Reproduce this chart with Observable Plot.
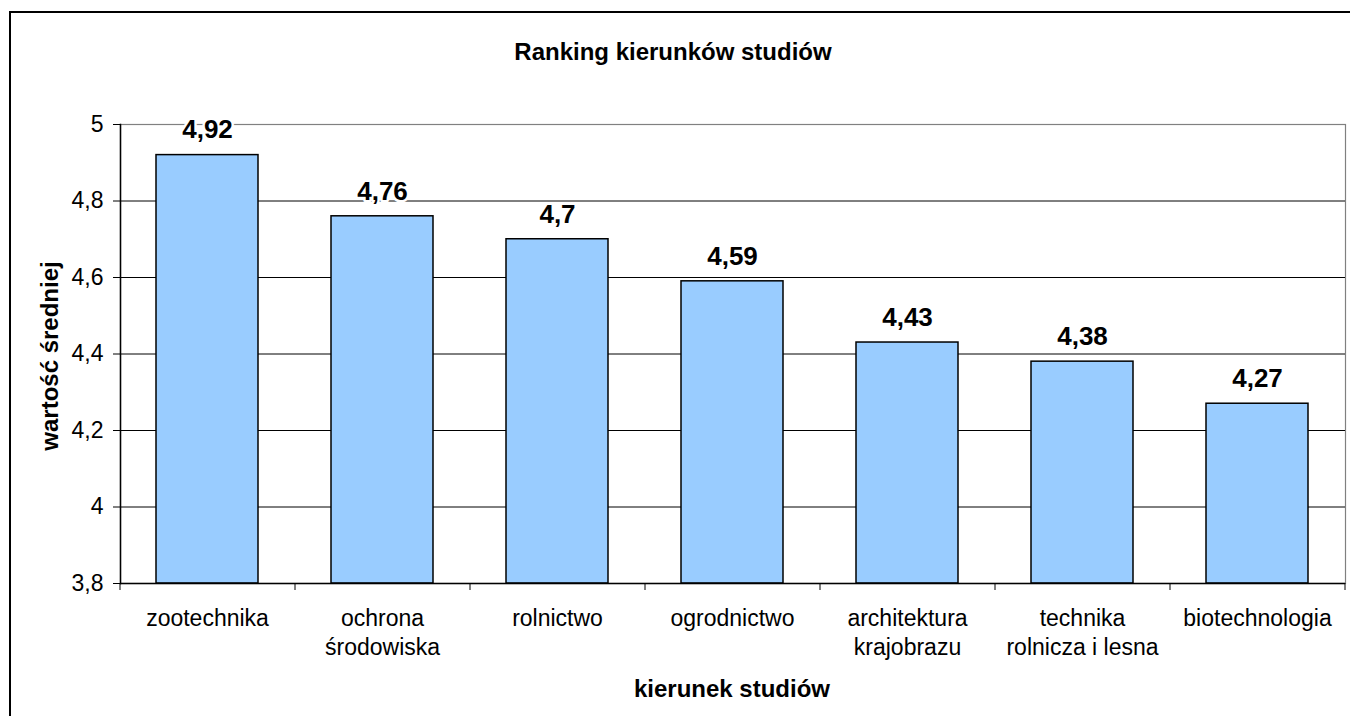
<!DOCTYPE html>
<html>
<head>
<meta charset="utf-8">
<script src="https://cdn.jsdelivr.net/npm/d3@7"></script>
<script src="https://cdn.jsdelivr.net/npm/@observablehq/plot@0.6"></script>
<style>
  html, body { margin: 0; padding: 0; background: #fff; }
  #wrap { position: relative; width: 1350px; height: 716px; overflow: hidden;
          font-family: "Liberation Sans", Arial, sans-serif; color: #000; }
  #border { position: absolute; left: 9px; top: 11px; width: 1400px; height: 800px;
            border-left: 2px solid #000; border-top: 2px solid #000; pointer-events: none; }
  .lbl { position: absolute; font-weight: bold; white-space: nowrap; line-height: 1;
         transform: translate(-50%, -50%); }
  #ytitle { transform: translate(-50%, -50%) rotate(-90deg); }
  svg { font-family: "Liberation Sans", Arial, sans-serif; }
</style>
</head>
<body>
<div id="wrap">
  <div id="chart"></div>
  <div id="title" class="lbl" style="left:673px; top:52px; font-size:24px;"></div>
  <div id="xtitle" class="lbl" style="left:732px; top:689px; font-size:24px;"></div>
  <div id="ytitle" class="lbl" style="left:50px; top:356px; font-size:24px;"></div>
  <div id="border"></div>
</div>
<script>
const title = "Ranking kierunków studiów";
const xTitle = "kierunek studiów";
const yTitle = "wartość średniej";
const categories = ["zootechnika", "ochrona środowiska", "rolnictwo", "ogrodnictwo",
  "architektura krajobrazu", "technika rolnicza i lesna", "biotechnologia"];
const tickLabels = ["zootechnika", "ochrona\nśrodowiska", "rolnictwo", "ogrodnictwo",
  "architektura\nkrajobrazu", "technika\nrolnicza i lesna", "biotechnologia"];
const values = [4.92, 4.76, 4.7, 4.59, 4.43, 4.38, 4.27];
const yTicks = [3.8, 4, 4.2, 4.4, 4.6, 4.8, 5];
const yDomain = [3.8, 5];

document.getElementById("title").textContent = title;
document.getElementById("xtitle").textContent = xTitle;
document.getElementById("ytitle").textContent = yTitle;

const data = categories.map((c, i) => ({cat: c, value: values[i]}));
const comma = d => String(d).replace(".", ",");
const labelOf = c => tickLabels[categories.indexOf(c)];
const halfStep = 87.5;

const chart = Plot.plot({
  width: 1350,
  height: 716,
  marginLeft: 120,
  marginRight: 5,
  marginTop: 124,
  marginBottom: 133,
  style: {fontFamily: "'Liberation Sans', Arial, sans-serif", color: "#000", background: "transparent"},
  x: {domain: categories, paddingInner: 0.417, paddingOuter: 0.2085, label: null},
  y: {domain: yDomain, label: null},
  marks: [
    Plot.frame({stroke: "#808080", strokeWidth: 1.2}),
    Plot.gridY(yTicks.slice(1, -1), {stroke: "#000", strokeOpacity: 1, strokeWidth: 1}),
    Plot.barY(data, {x: "cat", y1: yDomain[0], y2: "value", fill: "#99CCFF", stroke: "#000", strokeWidth: 1.5}),
    Plot.frame({anchor: "left", stroke: "#000", strokeWidth: 1.5}),
    Plot.ruleY([yDomain[0]], {stroke: "#000", strokeWidth: 1.5}),
    Plot.axisY({ticks: yTicks, tickSize: 7, tickPadding: 10, tickFormat: comma, fontSize: 23, label: null, stroke: "#000"}),
    Plot.axisX({tickSize: 7, tickFormat: () => "", dx: -halfStep, label: null, stroke: "#000"}),
    Plot.axisX({ticks: [categories[categories.length - 1]], tickSize: 7, tickFormat: () => "", dx: halfStep, label: null, stroke: "#000"}),
    Plot.axisX({tickSize: 0, tickPadding: 22, tickFormat: labelOf, fontSize: 23, lineHeight: 1.26, label: null}),
    Plot.text(data, {x: "cat", y: "value", text: d => comma(d.value), dy: -25, fontSize: 26, fontWeight: "bold",
      fill: "#000", stroke: "#fff", strokeWidth: 5, paintOrder: "stroke", lineAnchor: "middle"})
  ]
});
document.getElementById("chart").appendChild(chart);
</script>
</body>
</html>
